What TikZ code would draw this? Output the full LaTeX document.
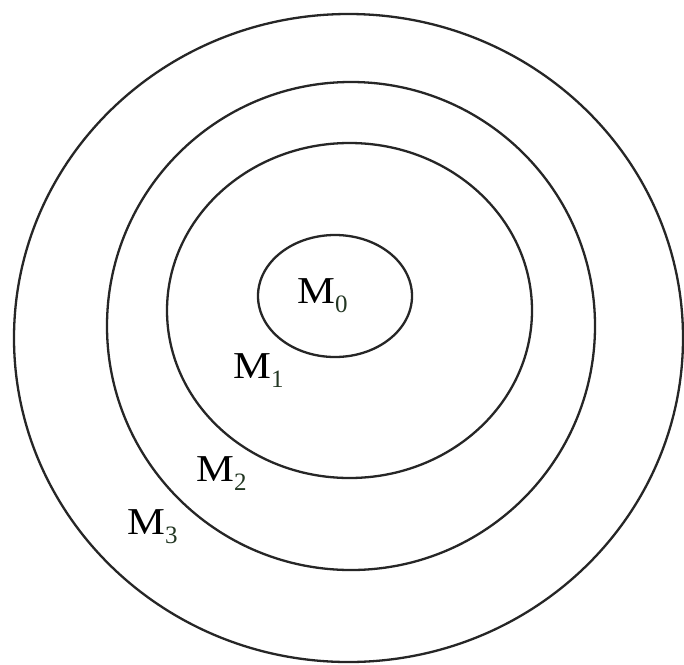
\documentclass[tikz,border=0pt]{standalone}
\usepackage{fontspec}
\setmainfont{Liberation Serif}
\definecolor{subgreen}{RGB}{35,55,35}
\newcommand{\mlabel}[1]{\scalebox{1.12}[1]{\fontsize{38}{38}\selectfont M}\raisebox{-9pt}{\fontsize{25}{25}\selectfont\color{subgreen}#1}}
\begin{document}
\begin{tikzpicture}[x=1pt,y=-1pt,
  ring/.style={draw=black!85,line width=2.3pt},
  lbl/.style={anchor=base west,inner sep=0pt,text=black}]
\useasboundingbox (0,0) rectangle (684,664);
\fill[white] (0,0) rectangle (684,664);
\coordinate (c3) at (348.5,338);
\coordinate (c2) at (351,326);
\coordinate (c1) at (349.5,310.5);
\coordinate (c0) at (335,296);
\draw[ring] (c3) ellipse [x radius=334.5, y radius=324];
\draw[ring] (c2) ellipse [x radius=244, y radius=244];
\draw[ring] (c1) ellipse [x radius=182.5, y radius=167.5];
\draw[ring] (c0) ellipse [x radius=77, y radius=61];
\node[lbl] (m0) at (297,303) {\mlabel{0}};
\node[lbl] (m1) at (233,378) {\mlabel{1}};
\node[lbl] (m2) at (196,481) {\mlabel{2}};
\node[lbl] (m3) at (127,534) {\mlabel{3}};
\end{tikzpicture}
\end{document}
